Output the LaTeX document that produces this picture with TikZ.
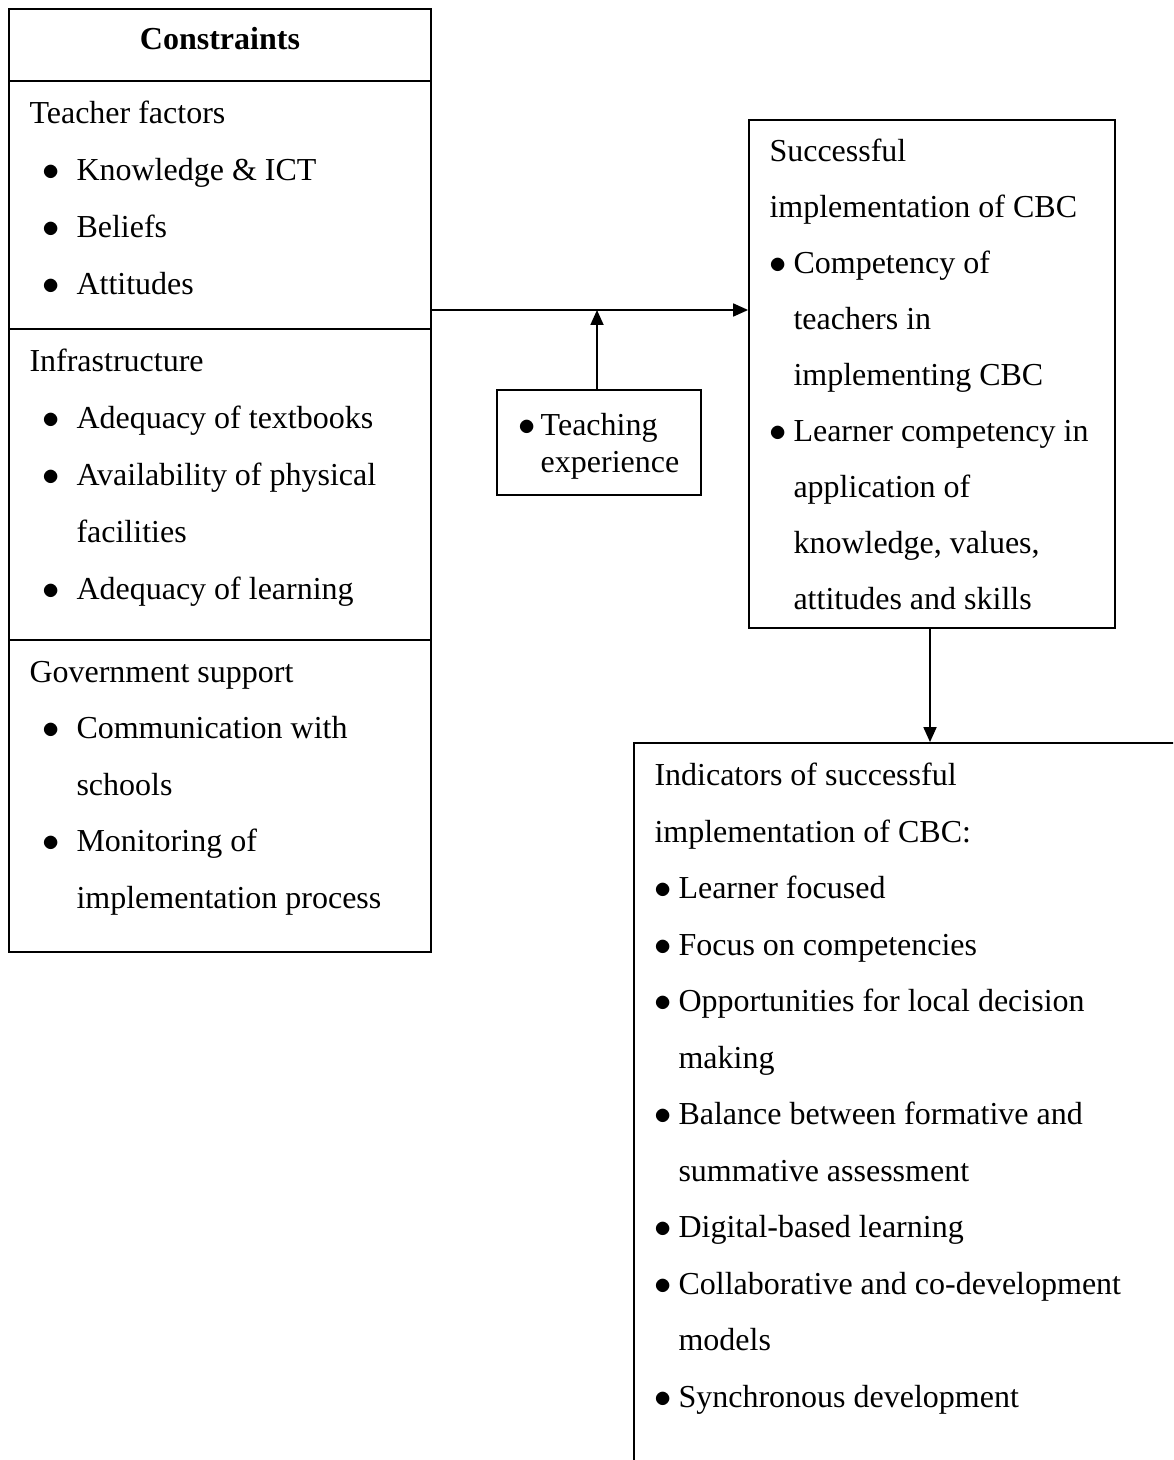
\documentclass[tikz,border=0pt]{standalone}
\usepackage{fontspec}
\setmainfont{Liberation Serif}
\usetikzlibrary{arrows.meta}

% пункты списков
\newcommand{\lbul}[1]{\hspace*{6.5pt}\makebox[17pt][l]{$\bullet$}#1}
\newcommand{\lcont}[1]{\hspace*{23.5pt}#1}
\newcommand{\rbul}[1]{\makebox[12pt][l]{$\bullet$}#1}
\newcommand{\rcont}[1]{\hspace*{12pt}#1}

\begin{document}
\begin{tikzpicture}[x=0.5pt,y=-0.5pt,
  box/.style={draw, line width=0.9pt, inner sep=0pt},
  txt/.style={anchor=north west, align=left, inner sep=0pt, font=\fontsize{16}{28}\selectfont},
  arr/.style={line width=0.9pt, -{Triangle[length=7.5pt,width=6.5pt]}}]
\useasboundingbox (0,0) rectangle (1173,1460);
\clip (0,0) rectangle (1173,1460);

% Левый блок: ограничения
\node[box, minimum width=211pt, minimum height=36pt] (head) at (220,45) {};
\node[anchor=base, font=\fontsize{16}{19}\selectfont\bfseries] (htitle) at (220,50) {Constraints};
\node[box, minimum width=211pt, minimum height=124pt] (teach) at (220,205) {};
\node[box, minimum width=211pt, minimum height=155.5pt] (infra) at (220,484.5) {};
\node[box, minimum width=211pt, minimum height=156pt] (gov) at (220,796) {};

% Тексты левого блока
\node[txt, font=\fontsize{16}{28.5}\selectfont] (teachtxt) at ([shift={(21,3)}]teach.north west)
  {\strut Teacher factors\\ \lbul{Knowledge \& ICT}\\ \lbul{Beliefs}\\ \lbul{Attitudes}};
\node[txt, font=\fontsize{16}{28.5}\selectfont] (infratxt) at ([shift={(21,3)}]infra.north west)
  {\strut Infrastructure\\ \lbul{Adequacy of textbooks}\\ \lbul{Availability of physical}\\
   \lcont{facilities}\\ \lbul{Adequacy of learning}};
\node[txt, font=\fontsize{16}{28.25}\selectfont] (govtxt) at ([shift={(21,3)}]gov.north west)
  {\strut Government support\\ \lbul{Communication with}\\ \lcont{schools}\\
   \lbul{Monitoring of}\\ \lcont{implementation process}};

% Опыт преподавания
\node[box, minimum width=102pt, minimum height=52.5pt] (texp) at (599,442.5) {};
\node[align=left, inner sep=0pt, font=\fontsize{16}{18.5}\selectfont] (texptxt) at (599,446.5)
  {\makebox[11pt][l]{$\bullet$}Teaching\\ \hspace*{11pt}experience};

% Успешное внедрение
\node[box, minimum width=183pt, minimum height=254pt] (succ) at (932,374) {};
\node[txt] (succtxt) at ([shift={(21,2.8)}]succ.north west)
  {\strut Successful\\ implementation of CBC\\ \rbul{Competency of}\\ \rcont{teachers in}\\
   \rcont{implementing CBC}\\ \rbul{Learner competency in}\\ \rcont{application of}\\
   \rcont{knowledge, values,}\\ \rcont{attitudes and skills}};

% Индикаторы
\node[box, minimum width=283pt, minimum height=368.5pt] (ind) at (917,1111.5) {};
\node[txt, font=\fontsize{16}{28.25}\selectfont] (indtxt) at ([shift={(21,3.5)}]ind.north west)
  {\strut Indicators of successful\\ implementation of CBC:\\ \rbul{Learner focused}\\
   \rbul{Focus on competencies}\\ \rbul{Opportunities for local decision}\\ \rcont{making}\\
   \rbul{Balance between formative and}\\ \rcont{summative assessment}\\
   \rbul{Digital-based learning}\\ \rbul{Collaborative and co-development}\\
   \rcont{models}\\ \rbul{Synchronous development}};

% Стрелки
\coordinate (join) at (431,310);
\draw[arr] (join) -- (join -| succ.west);
\draw[arr] ([xshift=-1pt]texp.north) -- ([xshift=-1pt]texp.north |- join);
\draw[arr] ([xshift=-1pt]succ.south) -- ([xshift=-1pt]succ.south |- ind.north);

\end{tikzpicture}
\end{document}
